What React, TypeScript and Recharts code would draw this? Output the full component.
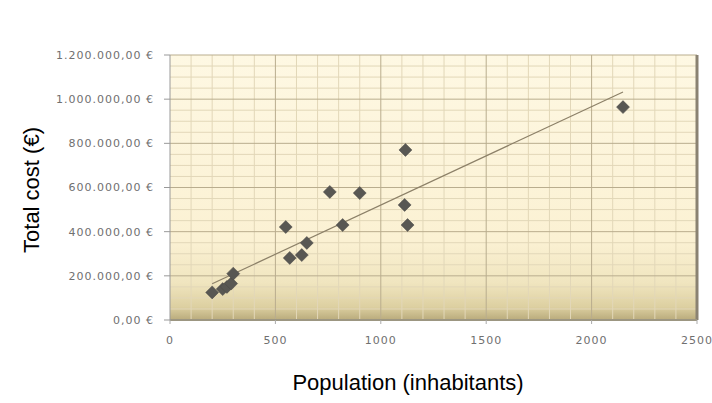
import { CartesianGrid, ReferenceLine, Scatter, ScatterChart, XAxis, YAxis } from 'recharts'

// population (inhabitants) and total cost (€) per municipality
const population = [200, 250, 270, 290, 300, 549, 568, 625, 649, 758, 819, 900, 1113, 1117, 1127, 2149]
const totalCost = [
  125000, 140000, 150000, 165000, 210000, 421000, 281000, 294000, 349000, 580000, 430000, 575000, 521000, 770000,
  430000, 964000,
]

const xTicks = [0, 500, 1000, 1500, 2000, 2500]
const yTicks = [0, 200000, 400000, 600000, 800000, 1000000, 1200000]
const xMinor = Array.from({ length: 24 }, (_, i) => (i + 1) * 100).filter((v) => v % 500 !== 0)
const yMinor = Array.from({ length: 23 }, (_, i) => (i + 1) * 50000).filter((v) => v % 200000 !== 0)

const points = population.map((x, i) => ({ x, y: totalCost[i] }))

// least squares trend line, like the spreadsheet "linear trendline"
const n = points.length
const mx = population.reduce((a, b) => a + b, 0) / n
const my = totalCost.reduce((a, b) => a + b, 0) / n
const slope =
  points.reduce((s, p) => s + (p.x - mx) * (p.y - my), 0) / points.reduce((s, p) => s + (p.x - mx) ** 2, 0)
const intercept = my - slope * mx
const xMin = Math.min(...population)
const xMax = Math.max(...population)

const euro = (v: number) => {
  const int = Math.round(v).toString().replace(/\B(?=(\d{3})+(?!\d))/g, '.')
  return `${int},00 €`
}

const tickStyle = { fontFamily: 'DejaVu Sans', fontSize: 11, fill: '#707070', letterSpacing: 1 }

const Diamond = (props: any) => {
  const { cx, cy } = props
  const r = 6.5
  return (
    <polygon
      points={`${cx},${cy - r} ${cx + r},${cy} ${cx},${cy + r} ${cx - r},${cy}`}
      fill="#585753"
      stroke="#4a4946"
      strokeWidth={0.5}
    />
  )
}

export default function App() {
  return (
    <div style={{ position: 'absolute', left: 0, top: 0, width: 712, height: 403, background: '#fff' }}>
      <ScatterChart width={712} height={403} margin={{ top: 55, right: 15, bottom: 53, left: 10 }}>
        <defs>
          <linearGradient id="plotBg" x1="0" y1="0" x2="0" y2="1">
            <stop offset="0%" stopColor="#fef8e3" />
            <stop offset="70%" stopColor="#fbf1d3" />
            <stop offset="86%" stopColor="#f0e5bf" />
            <stop offset="95%" stopColor="#ddd0a1" />
            <stop offset="100%" stopColor="#b9ab7c" />
          </linearGradient>
        </defs>
        <CartesianGrid fill="url(#plotBg)" stroke="none" />
        {xMinor.map((v) => (
          <ReferenceLine key={`vx${v}`} x={v} stroke="#e2d7b8" strokeWidth={1} />
        ))}
        {yMinor.map((v) => (
          <ReferenceLine key={`hy${v}`} y={v} stroke="#e2d7b8" strokeWidth={1} />
        ))}
        {xTicks.slice(1, -1).map((v) => (
          <ReferenceLine key={`VX${v}`} x={v} stroke="#b9ad8e" strokeWidth={1} />
        ))}
        {yTicks.slice(1).map((v) => (
          <ReferenceLine key={`HY${v}`} y={v} stroke="#b9ad8e" strokeWidth={1} />
        ))}
        <ReferenceLine x={2500} stroke="#8a8272" strokeWidth={3} />
        <ReferenceLine y={0} stroke="#8e8258" strokeWidth={2} />
        <XAxis
          type="number"
          dataKey="x"
          domain={[0, 2500]}
          ticks={xTicks}
          allowDataOverflow
          height={30}
          tick={tickStyle}
          tickLine={{ stroke: '#aaa' }}
          axisLine={{ stroke: '#aaa' }}
          tickSize={4}
          tickMargin={12}
        />
        <YAxis
          type="number"
          dataKey="y"
          domain={[0, 1200000]}
          ticks={yTicks}
          width={160}
          tick={tickStyle}
          tickFormatter={euro}
          tickLine={{ stroke: '#999' }}
          axisLine={{ stroke: '#999' }}
          tickSize={6}
          tickMargin={10}
        />
        <ReferenceLine
          segment={[
            { x: xMin, y: intercept + slope * xMin },
            { x: xMax, y: intercept + slope * xMax },
          ]}
          stroke="#8c8068"
          strokeWidth={1.2}
        />
        <Scatter data={points} shape={Diamond} isAnimationActive={false} />
      </ScatterChart>
      <div
        style={{
          position: 'absolute',
          left: 32,
          top: 190,
          transform: 'translate(-50%, -50%) rotate(-90deg)',
          whiteSpace: 'nowrap',
          fontFamily: 'Liberation Sans, Arial, sans-serif',
          fontSize: 22,
          color: '#000',
        }}
      >
        Total cost (€)
      </div>
      <div
        style={{
          position: 'absolute',
          left: 408,
          top: 383,
          transform: 'translate(-50%, -50%)',
          whiteSpace: 'nowrap',
          fontFamily: 'Liberation Sans, Arial, sans-serif',
          fontSize: 22,
          color: '#000',
        }}
      >
        Population (inhabitants)
      </div>
    </div>
  )
}
